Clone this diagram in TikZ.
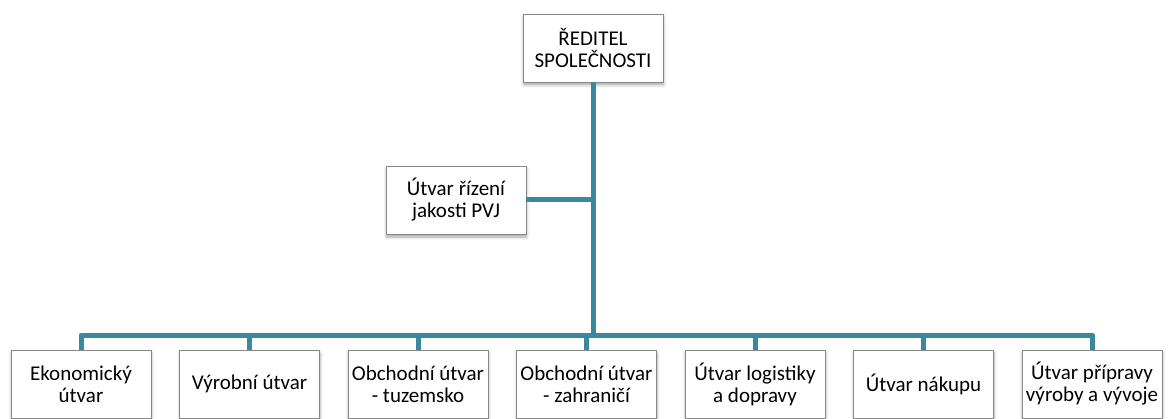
\documentclass[tikz,border=0pt]{standalone}
\usepackage{fontspec}
\setmainfont{Carlito}
\usetikzlibrary{positioning,shadows.blur}
\definecolor{OrgTeal}{RGB}{58,136,158}
\definecolor{BoxGray}{RGB}{135,135,135}
\tikzset{
	unit/.style={draw=BoxGray,fill=white,line width=0.9pt,inner sep=0pt,
		minimum width=140pt,minimum height=68pt,align=center,
		font=\fontsize{21}{22}\selectfont,
		blur shadow={shadow xshift=0.5pt,shadow yshift=-3pt,shadow blur radius=3pt,shadow opacity=35}},
	link/.style={draw=OrgTeal,line width=5pt,line join=round},
}
\begin{document}
\begin{tikzpicture}[x=1pt,y=-1pt]
	\useasboundingbox (0,0) rectangle (1169,419);
	\node[unit] (dir) at (593,48) {ŘEDITEL\\SPOLEČNOSTI};
	\node[unit] (jak) at (456,200) {Útvar řízení\\jakosti PVJ};
	\foreach \lab [count=\i] in {{Ekonomický\\útvar},{Výrobní útvar},{Obchodní útvar\\- tuzemsko},
		{Obchodní útvar\\- zahraničí},{Útvar logistiky\\a dopravy},{Útvar nákupu},{Útvar přípravy\\výroby a vývoje}}
		\node[unit] (u\i) at ({81+168.5*(\i-1)},384) {\lab};
	\coordinate (bus) at (593,335);
	% connectors
	\draw[link] (dir) -- (bus);
	\draw[link] (jak) -- (jak -| dir);
	\draw[link] (u1.north) |- (bus) -| (u7.north);
	\foreach \i in {2,...,6}
		\draw[link] (u\i.north) -- (u\i.north |- bus);
\end{tikzpicture}
\end{document}
